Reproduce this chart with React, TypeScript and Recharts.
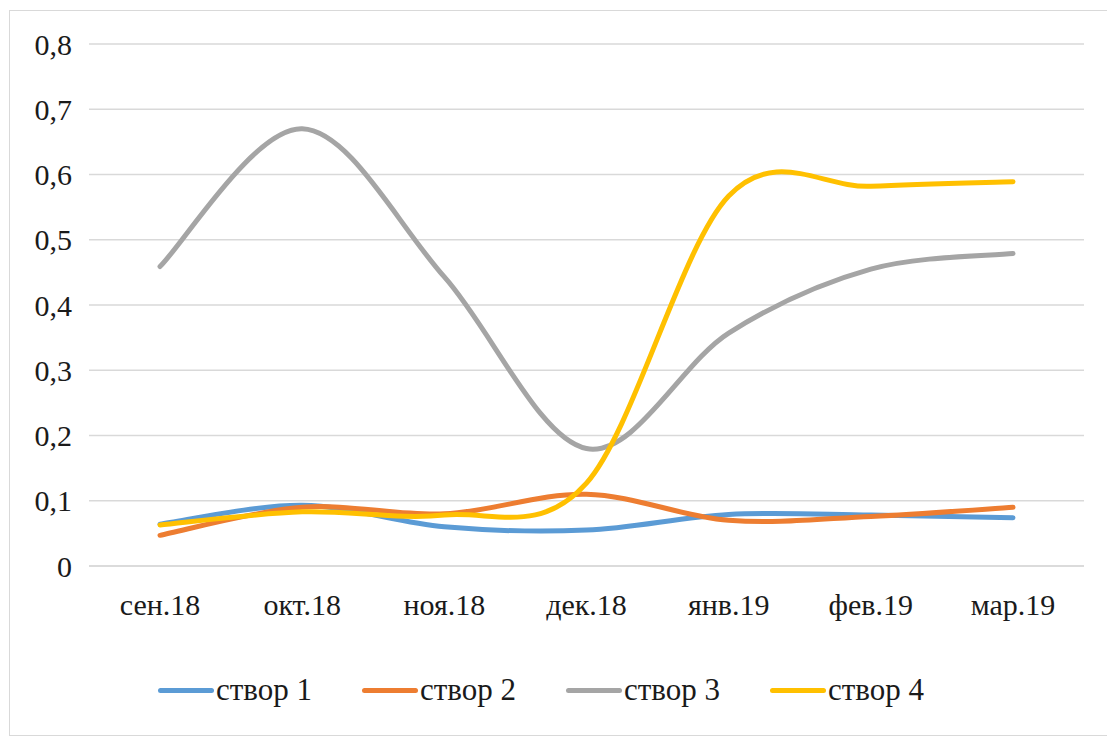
import React from 'react';
import { LineChart, Line, XAxis, YAxis, CartesianGrid, Legend } from 'recharts';

const months = ['сен.18', 'окт.18', 'ноя.18', 'дек.18', 'янв.19', 'фев.19', 'мар.19'];
const stvor1 = [0.064, 0.093, 0.06, 0.055, 0.079, 0.078, 0.074];
const stvor2 = [0.047, 0.09, 0.08, 0.11, 0.07, 0.076, 0.09];
const stvor3 = [0.459, 0.67, 0.443, 0.18, 0.357, 0.455, 0.479];
const stvor4 = [0.063, 0.083, 0.078, 0.127, 0.567, 0.582, 0.589];
const yTicks = [0, 0.1, 0.2, 0.3, 0.4, 0.5, 0.6, 0.7, 0.8];

const seriesNames = ['створ 1', 'створ 2', 'створ 3', 'створ 4'];
const seriesColors = ['#5B9BD5', '#ED7D31', '#A5A5A5', '#FFC000'];
const seriesValues = [stvor1, stvor2, stvor3, stvor4];

const data = months.map((m, i) => {
  const row: any = { month: m };
  seriesNames.forEach((n, k) => {
    row[n] = seriesValues[k][i];
  });
  return row;
});

// Excel-like smoothed line (Catmull-Rom through the points)
const excelSmooth = (context: any) => {
  let xs: number[] = [];
  let ys: number[] = [];
  return {
    areaStart() {},
    areaEnd() {},
    lineStart() {
      xs = [];
      ys = [];
    },
    point(x: number, y: number) {
      xs.push(+x);
      ys.push(+y);
    },
    lineEnd() {
      const n = xs.length;
      if (n === 0) return;
      context.moveTo(xs[0], ys[0]);
      if (n === 1) return;
      for (let i = 0; i < n - 1; i++) {
        const i0 = Math.max(i - 1, 0);
        const i3 = Math.min(i + 2, n - 1);
        const x0 = xs[i0], y0 = ys[i0];
        const x1 = xs[i], y1 = ys[i];
        const x2 = xs[i + 1], y2 = ys[i + 1];
        const x3 = xs[i3], y3 = ys[i3];
        context.bezierCurveTo(
          x1 + (x2 - x0) / 6,
          y1 + (y2 - y0) / 6,
          x2 - (x3 - x1) / 6,
          y2 - (y3 - y1) / 6,
          x2,
          y2
        );
      }
    },
  };
};

const FONT = "'Times New Roman', 'Liberation Serif', Times, 'DejaVu Serif', serif";
const TEXT = '#1a1a1a';

const fmt = (v: number) => (v === 0 ? '0' : v.toFixed(1).replace('.', ','));

const renderLegend = () => (
  <div
    style={{
      height: 40,
      display: 'flex',
      justifyContent: 'flex-start',
      alignItems: 'center',
      paddingLeft: 150,
      fontFamily: FONT,
      fontSize: 31,
      color: TEXT,
    }}
  >
    {seriesNames.map((n, k) => (
      <div key={n} style={{ display: 'flex', alignItems: 'center', width: 204, flex: 'none' }}>
        <div
          style={{
            width: 56,
            height: 5,
            borderRadius: 3,
            background: seriesColors[k],
            marginRight: 2,
            flex: 'none',
          }}
        />
        <span style={{ whiteSpace: 'nowrap', fontFamily: FONT }}>{n}</span>
      </div>
    ))}
  </div>
);

export default function App() {
  return (
    <div style={{ position: 'relative', width: 1106, height: 728, fontFamily: FONT }}>
      <div
        style={{
          position: 'absolute',
          left: 1,
          top: 2,
          width: 1105,
          height: 726,
          boxSizing: 'border-box',
          border: '1px solid #d9d9d9',
        }}
      />
      <div style={{ position: 'absolute', left: 0, top: 0 }}>
        <LineChart
          width={1106}
          height={728}
          data={data}
          margin={{ top: 36, right: 30, left: 0, bottom: 26 }}
          style={{ fontFamily: FONT }}
        >
          <CartesianGrid vertical={false} stroke="#d9d9d9" strokeWidth={1.5} />
          <XAxis
            dataKey="month"
            height={104}
            padding={{ left: 71, right: 71 }}
            tickLine={false}
            tickSize={0}
            tickMargin={28}
            axisLine={{ stroke: '#d9d9d9', strokeWidth: 1.5 }}
            tick={{ fontFamily: FONT, fontSize: 30, fill: TEXT }}
            interval={0}
          />
          <YAxis
            width={81}
            domain={[0, 0.8]}
            ticks={yTicks}
            tickFormatter={fmt}
            axisLine={false}
            tickLine={false}
            tickSize={0}
            tickMargin={17}
            tick={{ fontFamily: FONT, fontSize: 30, fill: TEXT }}
          />
          <Legend verticalAlign="bottom" content={renderLegend} />
          {seriesNames.map((n, k) => (
            <Line
              key={n}
              dataKey={n}
              type={excelSmooth as any}
              stroke={seriesColors[k]}
              strokeWidth={5}
              strokeLinecap="round"
              dot={false}
              activeDot={false}
              isAnimationActive={false}
            />
          ))}
        </LineChart>
      </div>
    </div>
  );
}
